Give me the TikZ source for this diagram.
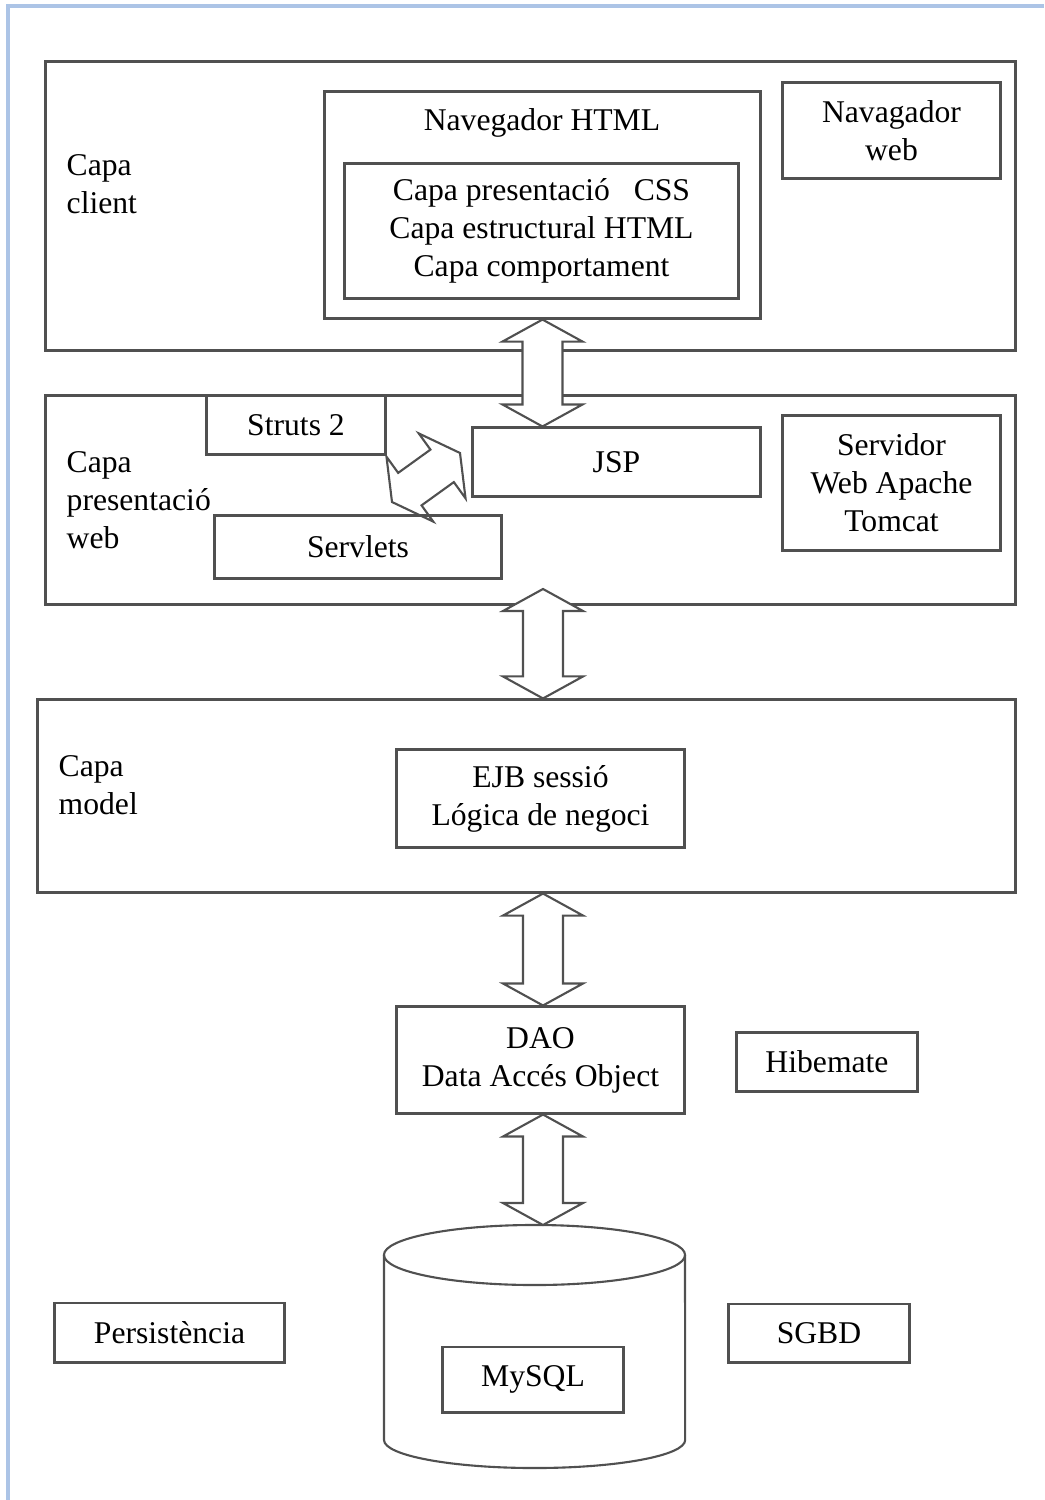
\documentclass[tikz,border=0pt]{standalone}
\usepackage{fontspec}
\setmainfont{Liberation Serif}
\usetikzlibrary{calc}
\definecolor{framblue}{RGB}{172,196,230}
\definecolor{linegray}{RGB}{80,80,80}
\newcommand{\dblarrow}[3][]{%
  \draw[blockarrow,#1] (#2)
    -- ($(#2)!0.22cm!(#3)!0.4cm!90:(#3)$)
    -- ($(#2)!0.22cm!(#3)!0.2cm!90:(#3)$)
    -- ($(#3)!0.22cm!(#2)!0.2cm!-90:(#2)$)
    -- ($(#3)!0.22cm!(#2)!0.4cm!-90:(#2)$)
    -- (#3)
    -- ($(#3)!0.22cm!(#2)!0.4cm!90:(#2)$)
    -- ($(#3)!0.22cm!(#2)!0.2cm!90:(#2)$)
    -- ($(#2)!0.22cm!(#3)!0.2cm!-90:(#3)$)
    -- ($(#2)!0.22cm!(#3)!0.4cm!-90:(#3)$)
    -- cycle;}
\begin{document}
\begin{tikzpicture}[x=0.01cm,y=-0.01cm,
  font=\fontsize{9}{10.8}\selectfont,
  box/.style={draw=linegray,line width=0.85pt,inner sep=0pt,align=center},
  lbl/.style={anchor=west,align=left,inner sep=0pt},
  blockarrow/.style={draw=linegray,line width=0.6pt,fill=white,line join=miter}]
\useasboundingbox (0,0) rectangle (1044,1500);
\draw[framblue,line width=1pt] (8,1500) -- (8,6) -- (1044,6);

\node[box,minimum width=9.69cm,minimum height=2.88cm] (client) at (530.5,206) {};
\node[lbl] (lclient) at (66,184) {Capa\\client};
\node[box,minimum width=4.35cm,minimum height=2.26cm] (navhtml) at (542.5,205) {};
\node (tnav) at (542,123) {Navegador HTML};
\node[box,minimum width=3.93cm,minimum height=1.34cm] (capes) at (541.5,231)
  {Capa presentació\ \ \ CSS\\Capa estructural HTML\\Capa comportament};
\node[box,minimum width=2.17cm,minimum height=0.95cm] (navweb) at (891.5,130.5) {Navagador\\web};

\node[box,minimum width=9.69cm,minimum height=2.08cm] (web) at (530.5,500) {};
\node[lbl] (lweb) at (66,500) {Capa\\presentació\\web};
\node[box,fill=white,minimum width=1.78cm,minimum height=0.58cm] (struts) at (296,425) {Struts 2};
\node[box,minimum width=2.87cm,minimum height=0.68cm] (jsp) at (616.5,462) {JSP};
\node[box,minimum width=2.86cm,minimum height=0.62cm] (servlets) at (358,547) {Servlets};
\node[box,minimum width=2.17cm,minimum height=1.34cm] (tomcat) at (891.5,483) {Servidor\\Web Apache\\Tomcat};

\node[box,minimum width=9.77cm,minimum height=1.92cm] (model) at (526.5,796) {};
\node[lbl] (lmodel) at (58,785) {Capa\\model};
\node[box,minimum width=2.87cm,minimum height=0.97cm] (ejb) at (540.5,798.5) {EJB sessió\\Lógica de negoci};

\node[box,minimum width=2.87cm,minimum height=1.06cm] (dao) at (540.5,1060) {DAO\\Data Accés Object};
\node[box,minimum width=1.80cm,minimum height=0.58cm] (hib) at (827,1062) {Hibemate};

\coordinate (dbtop) at (534.5,1225);
\draw[linegray,line width=0.6pt] (384,1255) -- (384,1440)
  arc[start angle=180,end angle=360,x radius=1.505cm,y radius=0.28cm] -- (685,1255);
\draw[linegray,line width=0.6pt] (534.5,1255) ellipse[x radius=1.505cm,y radius=0.3cm];
\node[box,minimum width=1.80cm,minimum height=0.65cm] (mysql) at (533,1379.5) {MySQL};
\node[box,minimum width=2.29cm,minimum height=0.59cm] (pers) at (169.5,1332.5) {Persistència};
\node[box,minimum width=1.80cm,minimum height=0.58cm] (sgbd) at (819,1333) {SGBD};

\coordinate (sv) at (392,502);
\coordinate (jp) at (460,453);
\coordinate (wb) at (543,589);
\dblarrow{navhtml.south}{navhtml.south |- jsp.north}
\dblarrow[fill=none]{sv}{jp}
\dblarrow{wb}{wb |- model.north}
\dblarrow{wb |- model.south}{wb |- dao.north}
\dblarrow{wb |- dao.south}{wb |- dbtop}
\end{tikzpicture}
\end{document}
